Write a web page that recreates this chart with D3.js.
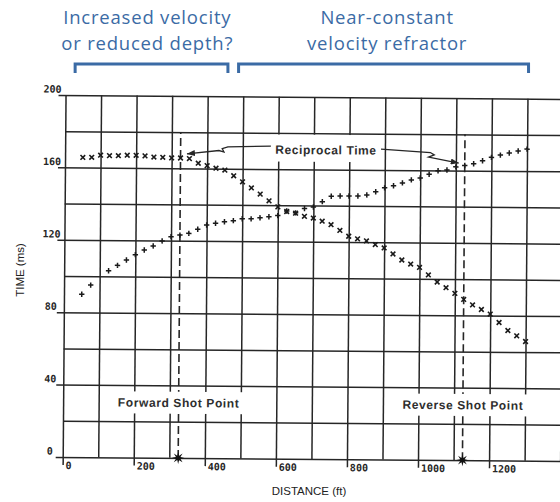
<!DOCTYPE html>
<html><head><meta charset="utf-8">
<script src="https://cdn.jsdelivr.net/npm/d3@7"></script>
<style>body{margin:0;background:#fff}svg{display:block}</style>
</head><body><svg id="c" width="560" height="502"></svg>
<script>
// ---- data (distance in ft, time in ms) ----
const plusDist = [50,75,125,150,175,200,225,250,275,300,325,350,375,400,425,450,475,500,525,550,575,600,625,650,675,700,725,750,775,800,825,850,875,900,925,950,975,1000,1025,1050,1075,1100,1125,1150,1175,1200,1225,1250,1275,1300];
const plusTime = [90.0,95.1,103.1,106.1,109.1,112.1,114.7,117.0,119.8,122.2,123.1,124.1,126.4,128.8,129.8,130.7,131.3,132.4,132.4,133.0,133.6,134.3,136.9,135.9,138.3,139.2,142.2,145.2,145.4,145.4,145.5,146.1,147.9,150.1,151.3,152.9,154.6,155.7,157.8,159.8,160.2,162.0,162.8,163.8,165.5,167.4,168.7,169.9,171.0,172.1];
const crossDist = [50,75,100,125,150,175,200,225,250,275,300,325,350,375,400,425,450,475,500,525,550,575,600,625,650,675,700,725,750,775,800,825,850,875,900,925,950,975,1000,1025,1050,1075,1100,1125,1150,1175,1200,1225,1250,1275,1300];
const crossTime = [165.6,165.7,166.9,166.7,166.7,167.0,167.0,166.7,166.1,166.0,165.7,165.7,165.4,162.9,161.6,160.2,159.2,156.1,152.8,149.5,146.1,142.4,139.1,136.6,135.7,134.0,133.1,131.4,129.5,126.4,123.2,121.8,120.7,118.7,116.9,113.6,110.3,108.1,106.3,102.2,98.3,95.2,92.1,88.8,85.8,83.3,80.8,76.2,71.8,68.9,65.8];
const xTickValues = [0,200,400,600,800,1000,1200];
const yTickValues = [0,40,80,120,160,200];
const shotNames = ["Forward Shot Point","Reverse Shot Point"];
const shotDist = [325,1125];
const shotLabelTime = 30.5;
const recipLabel = "Reciprocal Time";
const recipAt = [734,170.8];
const recipLeft = [[579,172.7],[458,172.1],[442,171.1],[447,169.2],[433,170.0],[343,168.0]];
const recipRight = [[889,171.5],[1028,169.8],[1039,168.5],[1023,167.3],[1108,164.1]];
const noteText = [["Increased velocity","or reduced depth?"],["Near-constant","velocity refractor"]];
const noteCenter = [238,913];
const bracketRange = [[35,465],[495,1311]];

// ---- layout ----
const svg = d3.select("#c");
const ox = 62.7, oy = 457, tilt = 0.45;
const x = d3.scaleLinear().domain([0,1200]).range([0,426.4]);
const y = d3.scaleLinear().domain([0,200]).range([0,-362]);
const ink = "#262626";
const blue = "#3b6ba5";

svg.append("defs").append("marker")
  .attr("id","ah").attr("viewBox","0 0 8 6").attr("refX",8).attr("refY",3)
  .attr("markerWidth",8).attr("markerHeight",6).attr("markerUnits","userSpaceOnUse")
  .attr("orient","auto")
  .append("path").attr("d","M0,0L8,3L0,6Z").attr("fill",ink);

const g = svg.append("g").attr("transform",`translate(${ox},${oy}) rotate(${tilt})`);

// horizontal grid
const hGrid = d3.range(0,201,20);
g.append("g")
  .call(d3.axisLeft(y).tickValues(hGrid).tickSize(-x(1460)).tickFormat(""))
  .call(a=>a.select(".domain").remove())
  .call(a=>a.selectAll(".tick line").attr("x1",d=>d%40===0?-7:0)
     .attr("stroke",ink).attr("stroke-width",1.5));
// vertical grid
const vGrid = d3.range(0,1401,100);
g.append("g")
  .call(d3.axisBottom(x).tickValues(vGrid).tickSize(-(y(0)-y(200))).tickFormat(""))
  .call(a=>a.select(".domain").remove())
  .call(a=>a.selectAll(".tick line").attr("y1",d=>(d%200===0&&d<=1200)?8:0)
     .attr("stroke",ink).attr("stroke-width",1.5));

// tick labels
const tickFont = "'DejaVu Sans Mono', monospace";
g.append("g")
  .call(d3.axisLeft(y).tickValues(yTickValues).tickFormat(d3.format("d")).tickSize(0).tickPadding(13))
  .call(a=>a.select(".domain").remove())
  .call(a=>a.selectAll(".tick text").attr("text-anchor","middle").attr("y",-6)
     .attr("font-family",tickFont).attr("font-weight","bold")
     .attr("font-size",10).attr("fill",ink));
g.append("g")
  .call(d3.axisBottom(x).tickValues(xTickValues).tickFormat(d3.format("d")).tickSize(0))
  .call(a=>a.select(".domain").remove())
  .call(a=>a.selectAll(".tick text").attr("text-anchor","start").attr("x",2.5).attr("y",8.5).attr("dy","0.35em")
     .attr("font-family",tickFont).attr("font-weight","bold")
     .attr("font-size",10).attr("fill",ink));

// shot point dashed lines
g.selectAll(".shot").data(shotDist).join("line")
  .attr("x1",d=>x(d)).attr("x2",d=>x(d)).attr("y1",y(0)).attr("y2",y(180))
  .attr("stroke",ink).attr("stroke-width",1.6).attr("stroke-dasharray","8,4");

// label boxes + labels
const labelFont = "'Liberation Sans', Arial, sans-serif";
function boxedLabel(txt, cx, cy, padX, up, down){
  const t = g.append("text").text(txt).attr("x",cx).attr("y",cy).attr("dy","0.36em")
    .attr("text-anchor","middle").attr("font-family",labelFont).attr("font-weight","bold")
    .attr("font-size",12).attr("letter-spacing","0.6px").attr("fill","#2e2e2e");
  const bb = t.node().getBBox();
  g.insert("rect", () => t.node())
    .attr("x",bb.x-padX).attr("width",bb.width+2*padX)
    .attr("y",cy-up).attr("height",up+down).attr("fill","#fff");
}
shotDist.forEach((d,i)=>boxedLabel(shotNames[i], x(d), y(shotLabelTime), 6, 11, 11));
boxedLabel(recipLabel, x(recipAt[0]), y(recipAt[1]), 5, 15, 12);

// stars at shot points
const star = d3.lineRadial().angle((d,i)=>i*Math.PI/8).radius((d,i)=>i%2?2.4:6.2).curve(d3.curveLinearClosed)(d3.range(16));
g.selectAll(".star").data(shotDist).join("path")
  .attr("d",star).attr("transform",d=>`translate(${x(d)},${y(0)})`).attr("fill","#111");

// data markers
const crossSym = d3.symbol(d3.symbolTimes, 16)();
const plusSym = d3.symbol(d3.symbolPlus, 11)();
g.selectAll(".cross").data(crossDist).join("path")
  .attr("d",crossSym).attr("transform",(d,i)=>`translate(${x(d)},${y(crossTime[i])})`)
  .attr("fill","none").attr("stroke","#1a1a1a").attr("stroke-width",1.6);
g.selectAll(".plus").data(plusDist).join("path")
  .attr("d",plusSym).attr("transform",(d,i)=>`translate(${x(d)},${y(plusTime[i])})`)
  .attr("fill","none").attr("stroke","#1a1a1a").attr("stroke-width",1.5);

// reciprocal time arrows
const aline = d3.line().x(d=>x(d[0])).y(d=>y(d[1]));
[recipLeft, recipRight].forEach(p=>{
  g.append("path").attr("d",aline(p)).attr("fill","none").attr("stroke",ink)
    .attr("stroke-width",1.3).attr("marker-end","url(#ah)");
});

// axis titles
svg.append("text").text("TIME (ms)").attr("transform","translate(19.5,270) rotate(-90)")
  .attr("text-anchor","middle").attr("dy","0.35em").attr("font-family",labelFont)
  .attr("font-size",11.5).attr("fill","#222");
svg.append("text").text("DISTANCE (ft)").attr("x",309).attr("y",495)
  .attr("text-anchor","middle").attr("font-family",labelFont)
  .attr("font-size",11.5).attr("fill","#222");

// top notes and brackets
noteText.forEach((lines,i)=>{
  const t = svg.append("text").attr("text-anchor","middle")
    .attr("font-family","'Open Sans', sans-serif").attr("font-size",18.5)
    .attr("letter-spacing","0.8px").attr("fill",blue);
  lines.forEach((s,j)=>t.append("tspan").attr("x",ox+x(noteCenter[i])).attr("y",24+j*25.5).text(s));
});
svg.selectAll(".br").data(bracketRange).join("path")
  .attr("d",d=>{const a=ox+x(d[0]), b=ox+x(d[1]); return `M${a},73V64H${b}V73`;})
  .attr("fill","none").attr("stroke",blue).attr("stroke-width",3);
</script></body></html>
